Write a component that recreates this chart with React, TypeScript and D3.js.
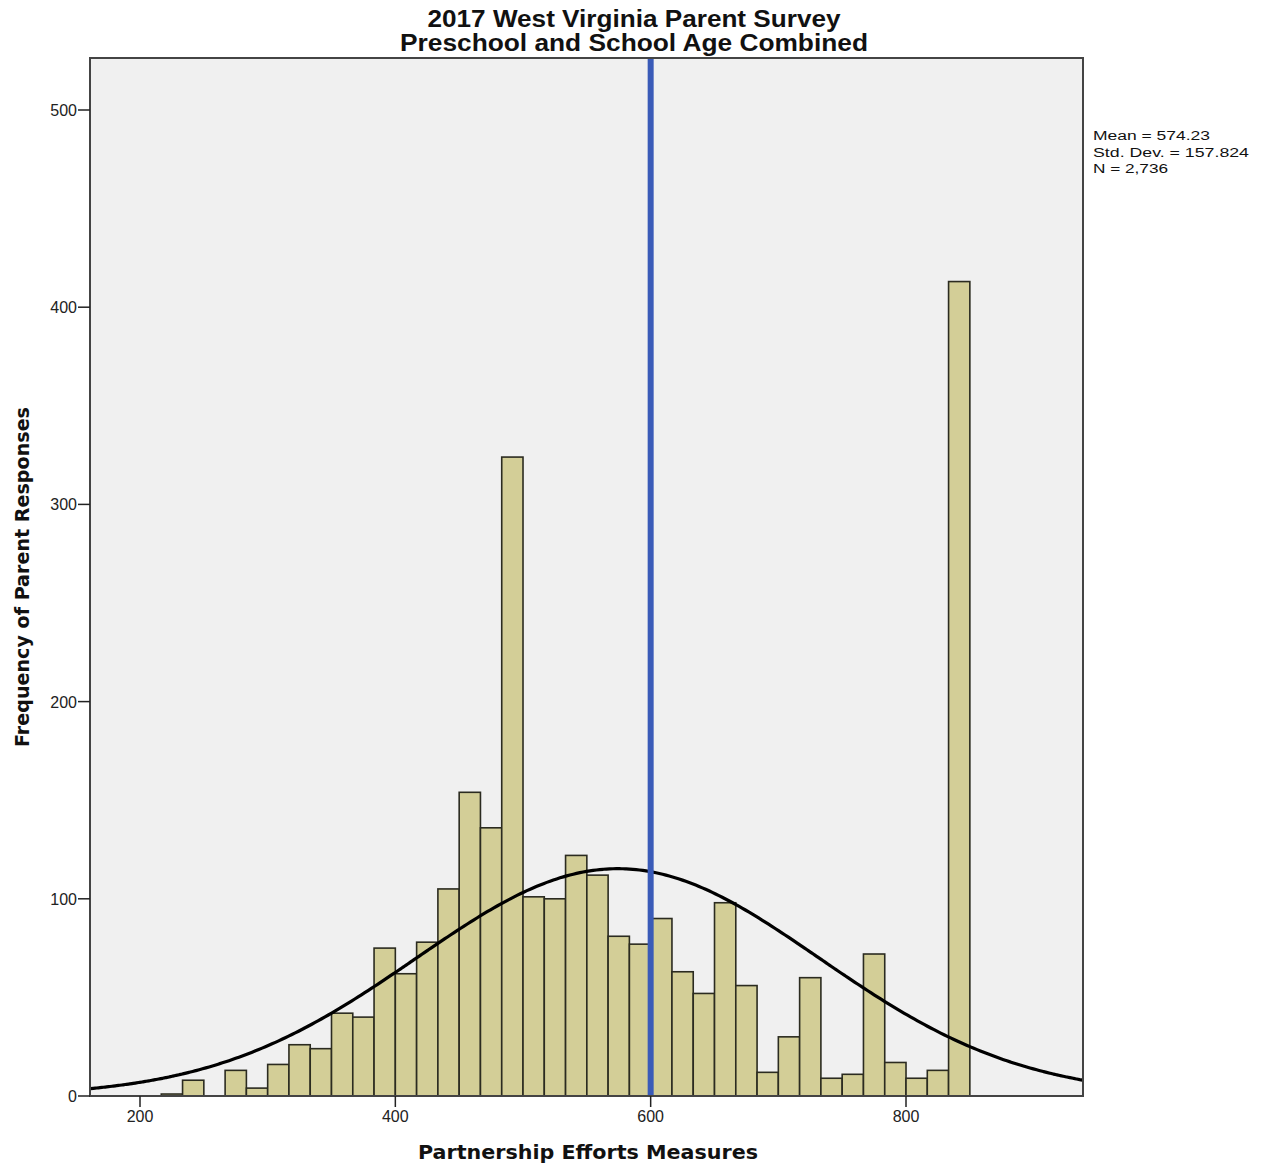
import React from "react";
import * as d3 from "d3";

const TITLE_LINES = ["2017 West Virginia Parent Survey", "Preschool and School Age Combined"];
const X_LABEL = "Partnership Efforts Measures";
const Y_LABEL = "Frequency of Parent Responses";
const STATS_TEXT = ["Mean = 574.23", "Std. Dev. = 157.824", "N = 2,736"];
const MEAN = 574.23;
const SD = 157.824;
const N = 2736;
const REF_LINE = 600;
const BIN_START = 216.667;
const BIN_WIDTH = 16.667;
const COUNTS = [
  1, 8, 0, 13, 4, 16, 26, 24, 42, 40, 75, 62, 78, 105, 154, 136, 324, 101, 100, 122,
  112, 81, 77, 90, 63, 52, 98, 56, 12, 30, 60, 9, 11, 72, 17, 9, 13, 413,
];
const X_TICKS = [200, 400, 600, 800];
const Y_TICKS = [0, 100, 200, 300, 400, 500];

export default function App() {
  const W = 1261, H = 1165;
  const L = 90, R = 1083, T = 58, B = 1096;
  const x = d3.scaleLinear().domain([200, 800]).range([140, 906]);
  const y = d3.scaleLinear().domain([0, 500]).range([B, 110]);

  const xMin = x.invert(L), xMax = x.invert(R);
  const curvePts: [number, number][] = [];
  const steps = 300;
  for (let i = 0; i <= steps; i++) {
    const v = xMin + ((xMax - xMin) * i) / steps;
    const dens = (N * BIN_WIDTH) / (SD * Math.sqrt(2 * Math.PI)) * Math.exp(-0.5 * ((v - MEAN) / SD) ** 2);
    curvePts.push([x(v), y(dens)]);
  }
  const line = d3.line().curve(d3.curveBasis)(curvePts) || "";

  const font = "'Liberation Sans', Arial, sans-serif";
  const boldFont = "'DejaVu Sans', Verdana, sans-serif";
  const titleLens = [413, 468];
  const statLens = [117, 156, 75];

  return (
    <svg width={W} height={H} style={{ display: "block", position: "absolute", left: 0, top: 0, background: "#fff" }}>
      <defs>
        <clipPath id="plot">
          <rect x={L} y={T} width={R - L} height={B - T} />
        </clipPath>
      </defs>
      <rect x={0} y={0} width={W} height={H} fill="#fff" />
      {TITLE_LINES.map((t, i) => (
        <text key={i} x={634} y={27 + i * 24} textAnchor="middle" fontFamily={font} fontWeight="bold" fontSize={23}
          textLength={titleLens[i]} lengthAdjust="spacingAndGlyphs" fill="#111">
          {t}
        </text>
      ))}
      <rect x={L} y={T} width={R - L} height={B - T} fill="#f0f0f0" />
      <g clipPath="url(#plot)">
        {COUNTS.map((c, i) => {
          if (c <= 0) return null;
          const x0 = x(BIN_START + i * BIN_WIDTH);
          const x1 = x(BIN_START + (i + 1) * BIN_WIDTH);
          return (
            <rect key={i} x={x0} y={y(c)} width={x1 - x0} height={B - y(c)} fill="#d3ce97" stroke="#2b2b20" strokeWidth={1.6} />
          );
        })}
        <path d={line} fill="none" stroke="#000" strokeWidth={3.2} />
        <line x1={x(REF_LINE)} x2={x(REF_LINE)} y1={T} y2={B} stroke="#3a5bb8" strokeWidth={6} />
      </g>
      <rect x={L} y={T} width={R - L} height={B - T} fill="none" stroke="#444" strokeWidth={2} />
      {Y_TICKS.map((t) => (
        <g key={t}>
          <line x1={L - 12} x2={L} y1={y(t)} y2={y(t)} stroke="#222" strokeWidth={1.5} />
          <text x={L - 13} y={y(t) + 6} textAnchor="end" fontFamily={font} fontSize={16} fill="#222">
            {t}
          </text>
        </g>
      ))}
      {X_TICKS.map((t) => (
        <g key={t}>
          <line x1={x(t)} x2={x(t)} y1={B} y2={B + 11} stroke="#222" strokeWidth={1.5} />
          <text x={x(t)} y={B + 26} textAnchor="middle" fontFamily={font} fontSize={16} fill="#222">
            {t}
          </text>
        </g>
      ))}
      <text x={588} y={1159} textAnchor="middle" fontFamily={boldFont} fontWeight="bold" fontSize={20}
        textLength={340} lengthAdjust="spacingAndGlyphs" fill="#111">
        {X_LABEL}
      </text>
      <text transform={`translate(29, 577) rotate(-90)`} textAnchor="middle" fontFamily={boldFont} fontWeight="bold" fontSize={19}
        textLength={340} lengthAdjust="spacingAndGlyphs" fill="#111">
        {Y_LABEL}
      </text>
      {STATS_TEXT.map((s, i) => (
        <text key={i} x={1093} y={140 + i * 16.5} fontFamily={font} fontSize={12.5}
          textLength={statLens[i]} lengthAdjust="spacingAndGlyphs" fill="#111">
          {s}
        </text>
      ))}
    </svg>
  );
}
